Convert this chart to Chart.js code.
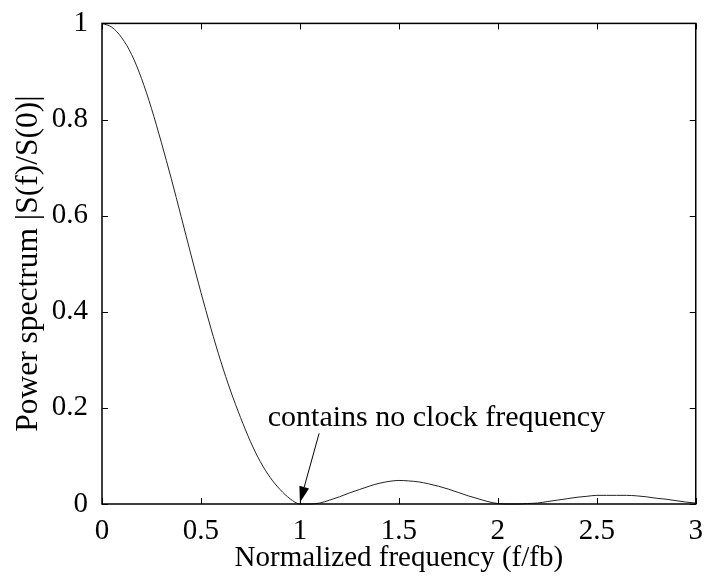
<!DOCTYPE html>
<html>
<head>
<meta charset="utf-8">
<script src="https://cdn.jsdelivr.net/npm/chart.js@4"></script>
<style>
  body { margin: 0; background: #fff; }
  #wrap { width: 705px; height: 576px; }
</style>
</head>
<body>
<div id="wrap"><canvas id="chart1" width="705" height="576"></canvas></div>
<script>
// normalized frequency f/fb
const freq = [
    0, 0.05, 0.1, 0.15, 0.2, 0.25, 0.3, 0.35, 0.4, 0.45,
    0.5, 0.55, 0.6, 0.65, 0.7, 0.75, 0.8, 0.85, 0.9, 0.95,
    1, 1.05, 1.1, 1.15, 1.2, 1.25, 1.3, 1.35, 1.4, 1.45,
    1.5, 1.55, 1.6, 1.65, 1.7, 1.75, 1.8, 1.85, 1.9, 1.95,
    2, 2.05, 2.1, 2.15, 2.2, 2.25, 2.3, 2.35, 2.4, 2.45,
    2.5, 2.55, 2.6, 2.65, 2.7, 2.75, 2.8, 2.85, 2.9, 2.95, 3
]
// |S(f)/S(0)|
const power = [
    1, 0.992, 0.97, 0.935, 0.885, 0.823, 0.752, 0.677, 0.598, 0.518,
    0.44, 0.366, 0.297, 0.235, 0.18, 0.13, 0.088, 0.055, 0.03, 0.011,
    0, 0, 0.002, 0.008, 0.015, 0.023, 0.030, 0.037, 0.043, 0.047,
    0.049, 0.048, 0.046, 0.042, 0.037, 0.031, 0.024, 0.017, 0.011, 0.005,
    0.001, 0, 0, 0.001, 0.002, 0.005, 0.008, 0.011, 0.014, 0.016,
    0.018, 0.018, 0.018, 0.018, 0.017, 0.015, 0.012, 0.010, 0.007, 0.004, 0.002
]
const xTicks = [0, 0.5, 1, 1.5, 2, 2.5, 3]
const yTicks = [0, 0.2, 0.4, 0.6, 0.8, 1]

const noteText = 'contains no clock frequency'
const notePos = [1.69, 0.163]      // text centre / baseline in data units
const arrowFrom = [1.097, 0.147]
const arrowTo = [1.0, 0.003]

const FONT = '"Liberation Serif", "Times New Roman", serif'

const matlabBox = {
    id: 'matlabBox',
    afterDraw(chart) {
        const ctx = chart.ctx
        const a = chart.chartArea
        const xs = chart.scales.x
        const ys = chart.scales.y
        ctx.save()
        ctx.strokeStyle = '#000'
        ctx.lineWidth = 1.5
        ctx.strokeRect(a.left, a.top, a.right - a.left, a.bottom - a.top)
        ctx.lineWidth = 1
        const t = 6
        ctx.beginPath()
        xTicks.forEach(v => {
            const px = Math.round(xs.getPixelForValue(v)) + 0.5
            ctx.moveTo(px, a.bottom); ctx.lineTo(px, a.bottom - t)
            ctx.moveTo(px, a.top); ctx.lineTo(px, a.top + t)
        })
        yTicks.forEach(v => {
            const py = Math.round(ys.getPixelForValue(v)) + 0.5
            ctx.moveTo(a.left, py); ctx.lineTo(a.left + t, py)
            ctx.moveTo(a.right, py); ctx.lineTo(a.right - t, py)
        })
        ctx.stroke()

        // annotation
        ctx.fillStyle = '#000'
        ctx.font = '30px ' + FONT
        ctx.textAlign = 'center'
        ctx.textBaseline = 'alphabetic'
        ctx.fillText(noteText, xs.getPixelForValue(notePos[0]), ys.getPixelForValue(notePos[1]))

        const x1 = xs.getPixelForValue(arrowFrom[0]), y1 = ys.getPixelForValue(arrowFrom[1])
        const x2 = xs.getPixelForValue(arrowTo[0]), y2 = ys.getPixelForValue(arrowTo[1])
        const ang = Math.atan2(y2 - y1, x2 - x1)
        const hl = 16, hw = 5
        ctx.beginPath()
        ctx.moveTo(x1, y1)
        ctx.lineTo(x2 - hl * Math.cos(ang), y2 - hl * Math.sin(ang))
        ctx.stroke()
        ctx.beginPath()
        ctx.moveTo(x2, y2)
        ctx.lineTo(x2 - hl * Math.cos(ang) + hw * Math.sin(ang), y2 - hl * Math.sin(ang) - hw * Math.cos(ang))
        ctx.lineTo(x2 - hl * Math.cos(ang) - hw * Math.sin(ang), y2 - hl * Math.sin(ang) + hw * Math.cos(ang))
        ctx.closePath()
        ctx.fill()
        ctx.restore()
    }
}

function loadChart(){
    const ctx1 = document.getElementById('chart1').getContext('2d')

    const data = {
        datasets: [{
            data: freq.map((f, i) => ({x: f, y: power[i]})),
            borderColor: '#222',
            borderWidth: 1,
            pointRadius: 0,
            showLine: true,
            cubicInterpolationMode: 'monotone',
            clip: false
        }]
    }

    const tickFont = {family: FONT, size: 29}

    const config = {
        type: 'scatter',
        data: data,
        options: {
            responsive: false,
            animation: false,
            layout: {padding: {top: 20, right: 7, left: 0, bottom: 0}},
            plugins: {legend: {display: false}, tooltip: {enabled: false}},
            scales: {
                x: {
                    type: 'linear', min: 0, max: 3,
                    afterBuildTicks: s => { s.ticks = xTicks.map(v => ({value: v})) },
                    ticks: {color: '#000', font: tickFont, padding: 2, maxRotation: 0,
                        callback: v => String(Math.round(v * 10) / 10)},
                    grid: {display: false},
                    border: {display: false},
                    title: {display: true, text: 'Normalized frequency (f/fb)', color: '#000',
                        font: tickFont, padding: {top: -6, bottom: 0}},
                    afterFit: s => { s.height = 72 }
                },
                y: {
                    min: 0, max: 1,
                    afterBuildTicks: s => { s.ticks = yTicks.map(v => ({value: v})) },
                    ticks: {color: '#000', font: tickFont, padding: 6,
                        callback: v => String(Math.round(v * 10) / 10)},
                    grid: {display: false},
                    border: {display: false},
                    title: {display: true, text: 'Power spectrum |S(f)/S(0)|', color: '#000',
                        font: {family: FONT, size: 31.5}, padding: {top: 10, bottom: 0}},
                    afterFit: s => { s.width = 102 }
                }
            }
        },
        plugins: [matlabBox]
    }

    new Chart(ctx1, config)
}

loadChart()
</script>
</body>
</html>
